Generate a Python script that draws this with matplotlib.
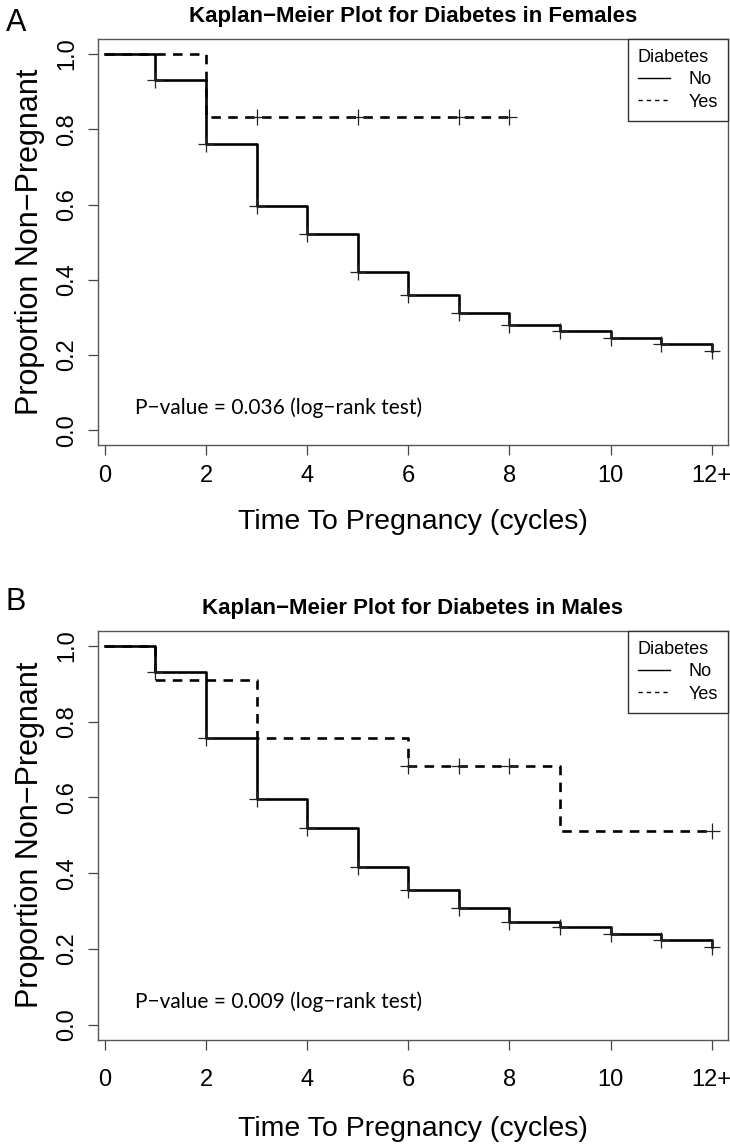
import numpy as np
import matplotlib

matplotlib.use('Agg')
import matplotlib.pyplot as plt
from matplotlib.lines import Line2D

plt.rcParams['font.family'] = ['Liberation Sans', 'DejaVu Sans']

# x tick labels
tick_pos = [0, 2, 4, 6, 8, 10, 12]
tick_lab = ["0", "2", "4", "6", "8", "10", "12+"]

# Females, no diabetes
f_no_t = [0, 1, 2, 3, 4, 5, 6, 7, 8, 9, 10, 11, 12]
f_no_s = [1.0, 0.93, 0.762, 0.596, 0.522, 0.421, 0.360, 0.312, 0.279, 0.263, 0.245, 0.229, 0.211]
f_no_cens_t = [1, 2, 3, 4, 5, 6, 7, 8, 9, 10, 11, 12]
f_no_cens_s = [0.93, 0.762, 0.596, 0.522, 0.421, 0.360, 0.312, 0.279, 0.263, 0.245, 0.229, 0.211]

# Females, diabetes
f_yes_t = [0, 2, 8]
f_yes_s = [1.0, 0.833, 0.833]
f_yes_cens_t = [3, 5, 7, 8]
f_yes_cens_s = [0.833, 0.833, 0.833, 0.833]

# Males, no diabetes
m_no_t = [0, 1, 2, 3, 4, 5, 6, 7, 8, 9, 10, 11, 12]
m_no_s = [1.0, 0.931, 0.756, 0.596, 0.520, 0.415, 0.355, 0.307, 0.271, 0.258, 0.240, 0.223, 0.205]
m_no_cens_t = [1, 2, 3, 4, 5, 6, 7, 8, 9, 10, 11, 12]
m_no_cens_s = [0.931, 0.756, 0.596, 0.520, 0.415, 0.355, 0.307, 0.271, 0.258, 0.240, 0.223, 0.205]

# Males, diabetes
m_yes_t = [0, 1, 3, 6, 9, 12]
m_yes_s = [1.0, 0.909, 0.756, 0.683, 0.511, 0.511]
m_yes_cens_t = [6, 7, 8, 12]
m_yes_cens_s = [0.683, 0.683, 0.683, 0.511]

pvals = ["0.036", "0.009"]
titles = ["Kaplan\u2212Meier Plot for Diabetes in Females",
          "Kaplan\u2212Meier Plot for Diabetes in Males"]
letters = ["A", "B"]

DASH = (0, (3.6, 2.8))


def km_panel(ax, no, yes, pval, title, xpad, xlabpad):
    ax.step(no[0], no[1], where='post', color='black', lw=1.9)
    ax.step(yes[0], yes[1], where='post', color='black', lw=1.9, linestyle=DASH)
    ax.plot(no[2], no[3], linestyle='none', marker='+', ms=11, mew=0.9, color='#222222')
    ax.plot(yes[2], yes[3], linestyle='none', marker='+', ms=11, mew=0.9, color='#222222')

    ax.set_xlim(-0.14, 12.32)
    ax.set_ylim(-0.04, 1.04)
    ax.set_xticks(tick_pos)
    ax.set_xticklabels(tick_lab)
    ax.set_yticks([0, 0.2, 0.4, 0.6, 0.8, 1.0])
    ax.set_yticklabels(["0.0", "0.2", "0.4", "0.6", "0.8", "1.0"], rotation=90, va='center')
    ax.tick_params(length=7, width=0.9, color='#444444', labelsize=17)
    ax.tick_params(axis='x', pad=xpad)
    ax.tick_params(axis='y', pad=7)
    for s in ax.spines.values():
        s.set_color('#555555')
        s.set_linewidth(1.0)

    ax.set_xlabel("Time To Pregnancy (cycles)", fontsize=20.5, labelpad=xlabpad)
    ax.set_ylabel("Proportion Non\u2212Pregnant", fontsize=22, labelpad=8)
    ax.set_title(title, fontsize=16, fontweight='bold', pad=12)

    ax.text(0.6, 0.06, "P\u2212value = " + pval + " (log\u2212rank test)",
            fontsize=15, family=['Lato', 'DejaVu Sans'], va='center', ha='left')

    handles = [Line2D([], [], color='black', lw=1.0),
               Line2D([], [], color='black', lw=1.0, linestyle=(0, (3, 3)))]
    leg = ax.legend(handles, ["No", "Yes"], title="Diabetes", loc='upper right',
                    fontsize=13, title_fontsize=13, fancybox=False, framealpha=1,
                    edgecolor='#333333', borderaxespad=0, handlelength=1.8,
                    handletextpad=1.0, borderpad=0.55, labelspacing=0.3)
    leg.get_frame().set_linewidth(1.0)
    leg._legend_box.align = "left"


fig = plt.figure(figsize=(7.3, 11.45), dpi=100)
ax_a = fig.add_axes([0.134, 0.611, 0.863, 0.355])
ax_b = fig.add_axes([0.134, 0.092, 0.863, 0.357])

km_panel(ax_a, (f_no_t, f_no_s, f_no_cens_t, f_no_cens_s),
         (f_yes_t, f_yes_s, f_yes_cens_t, f_yes_cens_s), pvals[0], titles[0], 7, 16)
km_panel(ax_b, (m_no_t, m_no_s, m_no_cens_t, m_no_cens_s),
         (m_yes_t, m_yes_s, m_yes_cens_t, m_yes_cens_s), pvals[1], titles[1], 14, 18)

fig.text(0.008, 0.993, letters[0], fontsize=22, va='top', ha='left',
         family=['Liberation Sans Narrow', 'Liberation Sans'])
fig.text(0.008, 0.487, letters[1], fontsize=22, va='top', ha='left',
         family=['Liberation Sans Narrow', 'Liberation Sans'])

fig.savefig("out.png", dpi=100)
plt.close(fig)
